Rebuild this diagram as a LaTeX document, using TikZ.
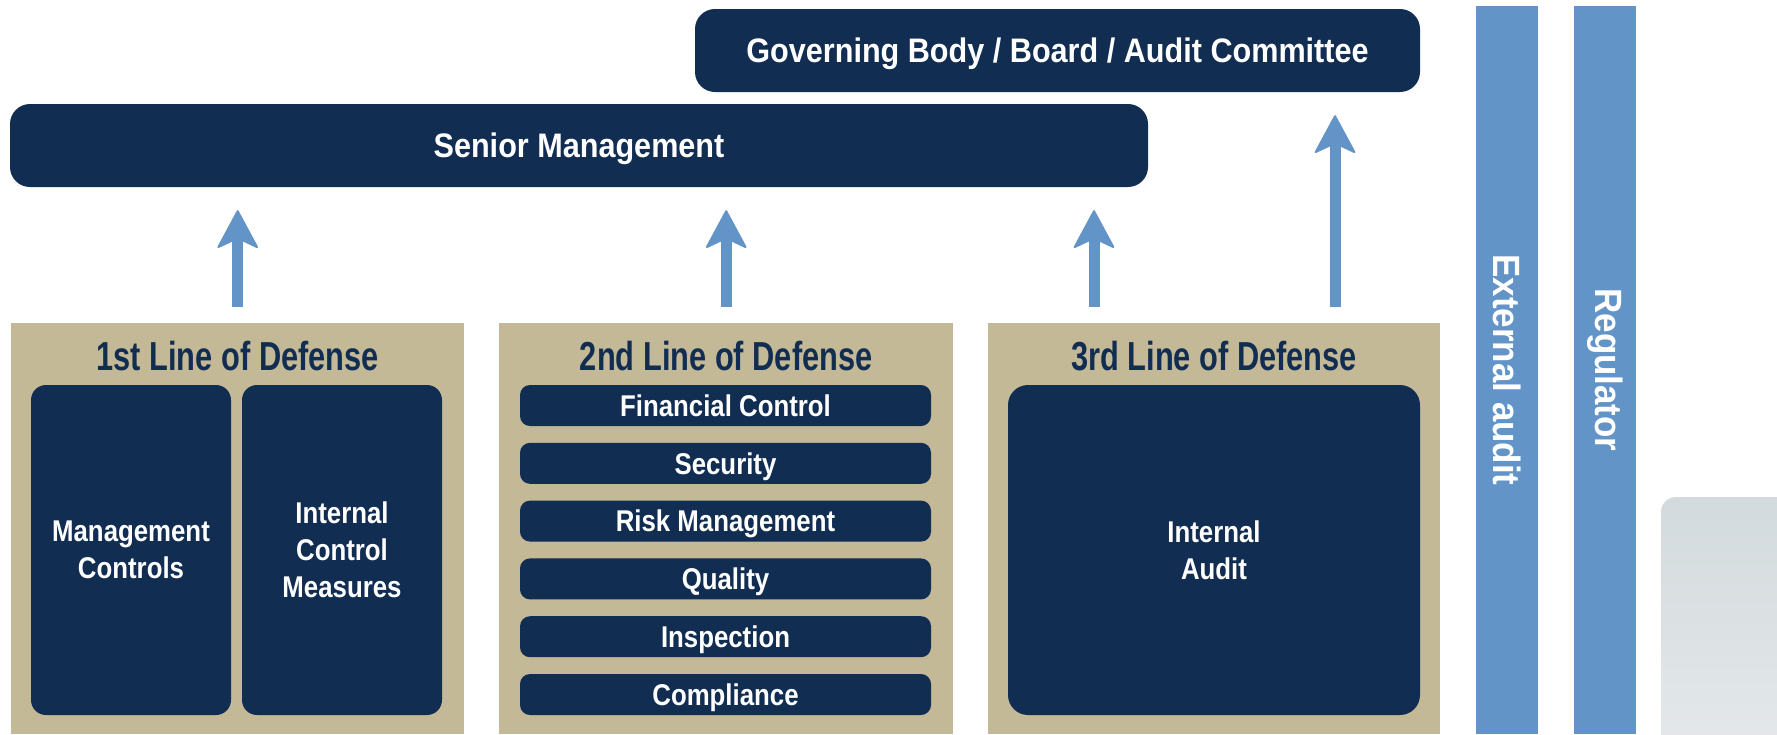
\documentclass[tikz,border=0pt]{standalone}
\usepackage{fontspec}
\usepackage{tikz}
\usetikzlibrary{
  positioning,
  arrows.meta
}
\newfontfamily\headfont[FakeStretch=0.76]{Liberation Sans Bold}
\newfontfamily\boxfont[FakeStretch=0.9]{Liberation Sans Bold}
\newfontfamily\labelfont[FakeStretch=0.86]{Liberation Sans Bold}
\newfontfamily\barfont[FakeStretch=0.92]{Liberation Sans Bold}

\definecolor{navy}{RGB}{17,45,82}
\definecolor{sand}{RGB}{196,185,151}
\definecolor{skyblue}{RGB}{99,148,200}
\definecolor{mist}{RGB}{211,218,221}

\tikzstyle{navybox}=[fill=navy, text=white, rounded corners=20pt, align=center, inner sep=0pt]
\tikzstyle{bigbox}=[navybox, minimum height=83pt, text height=24pt, text depth=0pt, font=\boxfont\fontsize{34}{40}\selectfont]
\tikzstyle{smallbox}=[navybox, font=\labelfont\fontsize{30}{37}\selectfont]
\tikzstyle{panel}=[fill=sand, anchor=north west, inner sep=0pt, minimum height=411pt]
\tikzstyle{headline}=[text=navy, anchor=base, inner sep=0pt, font=\headfont\fontsize{40.5}{44}\selectfont]
\tikzstyle{lineband}=[fill=skyblue, text=white, rotate=-90, inner sep=0pt, minimum width=728pt, minimum height=62pt, font=\barfont\fontsize{38}{38}\selectfont]
\tikzstyle{uparrow}=[draw=skyblue, line width=11pt, shorten <=16pt, shorten >=23pt, -{Stealth[length=40pt, width=43pt, inset=10pt, round, line width=2pt]}]

\begin{document}
\begin{tikzpicture}[x=1pt, y=-1pt]
    \def\w{1777};
    \def\h{734};
    \useasboundingbox (0,0) rectangle (\w,\h);

    % 上段の箱
    \node[bigbox, minimum width=725pt] (board) at (1057.5,50.5) {Governing Body / Board / Audit Committee};
    \node[bigbox, minimum width=1138pt] (senior) at (579,145.5) {Senior Management};

    % 3つの防衛線
    \node[panel, minimum width=453pt] (line1) at (11,323) {};
    \node[panel, minimum width=454pt] (line2) at (499,323) {};
    \node[panel, minimum width=452pt] (line3) at (988,323) {};
    \node[headline] (head1) at ([yshift=-47pt]line1.north) {1st Line of Defense};
    \node[headline] (head2) at ([yshift=-47pt]line2.north) {2nd Line of Defense};
    \node[headline] (head3) at ([yshift=-47pt]line3.north) {3rd Line of Defense};

    % 第1線
    \node[smallbox, rounded corners=15pt, minimum width=200pt, minimum height=330pt] (mgmt) at (131,550) {Management\\Controls};
    \node[smallbox, rounded corners=15pt, minimum width=200pt, minimum height=330pt] (icm) at (342,550) {Internal\\Control\\Measures};

    % 第2線
    \foreach \txt [count=\i from 0] in {Financial Control, Security, Risk Management, Quality, Inspection, Compliance}
      \node[smallbox, rounded corners=10pt, minimum width=411pt, minimum height=41pt, text height=21.5pt, text depth=0pt] (ctl\i) at (725.5,{405.5+57.8*\i}) {\txt};

    % 第3線
    \node[smallbox, minimum width=412pt, minimum height=330pt] (audit) at (1214,550) {Internal\\Audit};

    % 外部の帯
    \node[lineband] (extaudit) at (1507,370) {External audit};
    \node[lineband] (regulator) at (1605,370) {Regulator};

    % 右下の灰色
    \shade[top color=mist, bottom color=mist!60!white, rounded corners=15pt] (1800,497) -- (1661,497) -- (1661,760) -- (1800,760) -- cycle;

    % 矢印
    \coordinate (a3) at (1094,0);
    \coordinate (a4) at (1335,0);
    \draw[uparrow] (line1.north) -- (line1.north |- senior.south);
    \draw[uparrow] (line2.north) -- (line2.north |- senior.south);
    \draw[uparrow] (a3 |- line3.north) -- (a3 |- senior.south);
    \draw[uparrow] (a4 |- line3.north) -- (a4 |- board.south);
\end{tikzpicture}
\end{document}
